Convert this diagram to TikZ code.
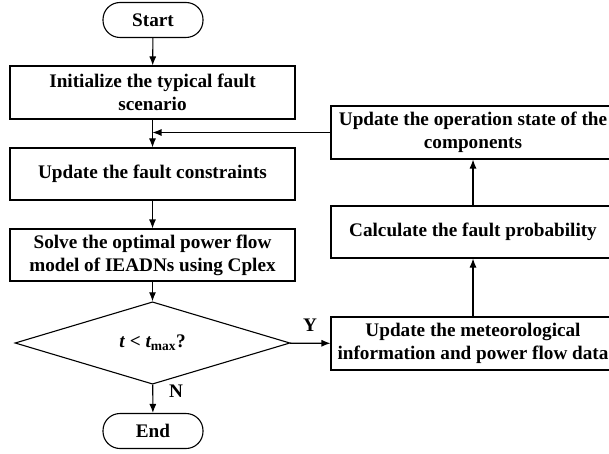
\documentclass[tikz,border=0pt]{standalone}
\usepackage{fontspec}
\setmainfont{Liberation Serif}
\usetikzlibrary{shapes.geometric,arrows.meta}

\begin{document}
\begin{tikzpicture}[x=1pt, y=-1pt, line width=1.1pt,
		box/.style = {rectangle, draw, fill = white, inner sep = 0pt,
		align = center, minimum width = 285pt,
		font = \bfseries\fontsize{19.2}{23}\selectfont},
		term/.style = {rectangle, draw, rounded corners = 17pt, inner sep = 0pt,
		minimum width = 100pt, minimum height = 35pt,
		font = \bfseries\fontsize{19.2}{23}\selectfont},
		cond/.style = {diamond, draw, inner sep = 0pt,
		minimum width = 275pt, minimum height = 62pt,
		font = \bfseries\fontsize{19.2}{23}\selectfont},
		tag/.style = {font = \bfseries\fontsize{19.2}{23}\selectfont},
		arr/.style = {-{Latex[length=9pt, width=7pt]}}]

	\useasboundingbox (0,0) rectangle (609,454);

	% main column
	\node [term] (s_0) at (153,20) {Start};
	\node [box, minimum height = 53pt] (s_1) at (152.5,92.5)
	{Initialize the typical fault\\scenario};
	\node [box, minimum height = 52pt] (s_2) at (152.5,174) {Update the fault constraints};
	\node [box, minimum height = 52pt] (s_3) at (152.5,255)
	{Solve the optimal power flow\\model of IEADNs using Cplex};
	\node [cond] (s_4) at (152.5,343)
	{\itshape t\/ \upshape< \itshape t\upshape\textsubscript{max}?};
	\node [term] (s_5) at (153,431) {End};

	% side column, cut off by the page edge
	\node [box, minimum width = 284pt, minimum height = 53pt] (r_1) at (473,343.5)
	{Update the meteorological\\information and power flow data};
	\node [box, minimum width = 284pt, minimum height = 52pt] (r_2) at (473,232)
	{Calculate the fault probability};
	\node [box, minimum width = 284pt, minimum height = 53pt] (r_3) at (473,132.5)
	{Update the operation state of the\\components};

	\draw [arr] (s_0) -- (s_1);
	\draw [arr] (s_1) -- (s_2);
	\draw [arr] (s_2) -- (s_3);
	\draw [arr] (s_3) -- (s_4);
	\draw [arr] (s_4) -- (s_5);
	\draw [arr] (s_4) -- (r_1);
	\draw [arr] (r_1) -- (r_2);
	\draw [arr] (r_2) -- (r_3);
	\draw [arr] (r_3.west) -- (r_3.west -| s_1.south);

	\node [tag] (y_1) at (310,325) {Y};
	\node [tag] (n_1) at (176,391) {N};
\end{tikzpicture}
\end{document}
